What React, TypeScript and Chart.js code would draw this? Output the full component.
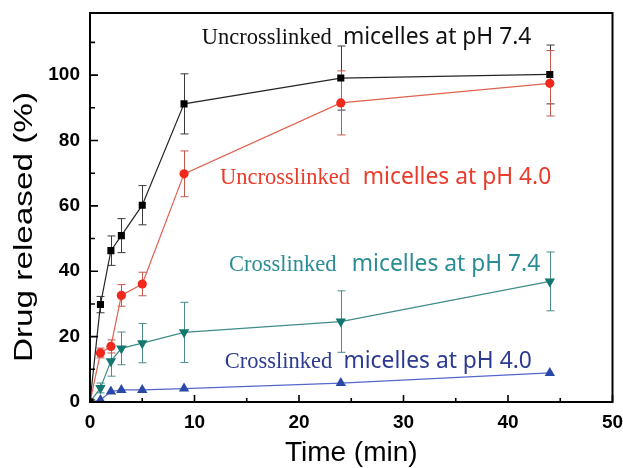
import { useEffect, useRef } from "react";
import { Chart, registerables } from "chart.js";

Chart.register(...registerables);

// Release time points (min)
const timeMin = [0, 1, 2, 3, 5, 9, 24, 44];

// Cumulative drug release (%) and standard deviations
const uncrossPH74 = [0, 29.8, 46.3, 50.9, 60.2, 91.2, 99.1, 100.2];
const uncrossPH74Err = [0, 2.5, 4.5, 5.2, 6.0, 9.2, 9.8, 9.0];

const uncrossPH40 = [0, 15.0, 17.0, 32.6, 36.1, 69.8, 91.5, 97.5];
const uncrossPH40Err = [0, 1.5, 2.0, 3.3, 3.6, 7.0, 9.8, 10.0];

const crossPH74 = [0, 4.3, 12.5, 16.4, 18.0, 21.3, 24.6, 36.9];
const crossPH74Err = [0, 1.5, 4.6, 5.0, 6.0, 9.2, 9.4, 9.0];

const crossPH40 = [0, 0.6, 3.2, 3.7, 3.7, 4.1, 5.8, 8.9];
const crossPH40Err = [0, 0, 0, 0, 0, 0, 0, 0];

// Axis ticks
const xTicks = [0, 10, 20, 30, 40, 50];
const xMinorTicks = [5, 15, 25, 35, 45];
const yTicks = [0, 20, 40, 60, 80, 100];
const yMinorTicks = [10, 30, 50, 70, 90, 110];

// Series captions: serif part, sans part
const captionSerif = ["Uncrosslinked", "Uncrosslinked", "Crosslinked", "Crosslinked"];
const captionSans = ["micelles at pH 7.4", "micelles at pH 4.0", "micelles at pH 7.4", "micelles at pH 4.0"];

const seriesNames = [
  "Uncrosslinked micelles at pH 7.4",
  "Uncrosslinked micelles at pH 4.0",
  "Crosslinked micelles at pH 7.4",
  "Crosslinked micelles at pH 4.0",
];
const seriesValues = [uncrossPH74, uncrossPH40, crossPH74, crossPH40];
const seriesErrors = [uncrossPH74Err, uncrossPH40Err, crossPH74Err, crossPH40Err];

// Styling per series
const styles = [
  { line: "#262626", marker: "#000000", err: "#3a3a3a", text: "#111111", shape: "rect", radius: 5, rotation: 0 },
  { line: "#e0624f", marker: "#f0281e", err: "#c4574c", text: "#ea3b2b", shape: "circle", radius: 4.6, rotation: 0 },
  { line: "#3f8d89", marker: "#12786f", err: "#4c8c88", text: "#2a8c94", shape: "triangle", radius: 6, rotation: 180 },
  { line: "#5566cc", marker: "#2a48a8", err: "#5566cc", text: "#2c3a92", shape: "triangle", radius: 6, rotation: 0 },
];

// Caption anchors in data units: [x of serif word, x of sans part, baseline y]
const captionAnchors = [
  [10.7, 24.2, 109.5],
  [12.45, 26.1, 66.6],
  [13.3, 25.05, 40.0],
  [12.9, 24.25, 10.3],
];

const fontSans = "'Liberation Sans', Arial, sans-serif";

const decorPlugin = {
  id: "decor",
  beforeDatasetsDraw(chart: any) {
    const { ctx, scales, chartArea } = chart;
    const xs = scales.x;
    const ys = scales.y;
    ctx.save();
    ctx.beginPath();
    ctx.rect(chartArea.left, chartArea.top, chartArea.right - chartArea.left, chartArea.bottom - chartArea.top);
    ctx.clip();
    chart.data.datasets.forEach((ds: any) => {
      const errs: number[] = ds.errorBars;
      ctx.strokeStyle = ds.errorColor;
      ctx.lineWidth = 1;
      ds.data.forEach((p: any, i: number) => {
        const e = errs[i];
        if (!e) return;
        const px = Math.round(xs.getPixelForValue(p.x)) + 0.5;
        const top = ys.getPixelForValue(p.y + e);
        const bot = ys.getPixelForValue(p.y - e);
        ctx.beginPath();
        ctx.moveTo(px, top);
        ctx.lineTo(px, bot);
        ctx.moveTo(px - 4, top);
        ctx.lineTo(px + 4, top);
        ctx.moveTo(px - 4, bot);
        ctx.lineTo(px + 4, bot);
        ctx.stroke();
      });
    });
    ctx.restore();
  },
  afterDraw(chart: any) {
    const { ctx, scales, chartArea } = chart;
    const xs = scales.x;
    const ys = scales.y;
    ctx.save();
    // frame
    ctx.strokeStyle = "#000";
    ctx.lineWidth = 2;
    ctx.strokeRect(chartArea.left, chartArea.top, chartArea.right - chartArea.left, chartArea.bottom - chartArea.top);
    // inward ticks
    ctx.lineWidth = 1.6;
    ctx.beginPath();
    const tickY = (v: number, len: number) => {
      const py = ys.getPixelForValue(v);
      ctx.moveTo(chartArea.left, py);
      ctx.lineTo(chartArea.left + len, py);
    };
    const tickX = (v: number, len: number) => {
      const px = xs.getPixelForValue(v);
      ctx.moveTo(px, chartArea.bottom);
      ctx.lineTo(px, chartArea.bottom - len);
    };
    yTicks.forEach((v) => tickY(v, 8));
    yMinorTicks.forEach((v) => tickY(v, 5));
    xTicks.forEach((v) => tickX(v, 7));
    xMinorTicks.forEach((v) => tickX(v, 4));
    ctx.stroke();

    // series captions
    ctx.textBaseline = "alphabetic";
    ctx.textAlign = "left";
    captionAnchors.forEach((a, i) => {
      ctx.fillStyle = styles[i].text;
      const by = ys.getPixelForValue(a[2]);
      ctx.font = "22.5px 'Liberation Serif', 'Times New Roman', serif";
      ctx.fillText(captionSerif[i], xs.getPixelForValue(a[0]), by);
      ctx.font = "22.8px 'Noto Sans', sans-serif";
      ctx.fillText(captionSans[i], xs.getPixelForValue(a[1]), by);
    });

    // y-axis title
    ctx.fillStyle = "#000";
    ctx.font = `26px ${fontSans}`;
    ctx.translate(25, 227);
    ctx.rotate(-Math.PI / 2);
    ctx.scale(1.28, 1);
    ctx.textAlign = "center";
    ctx.textBaseline = "middle";
    ctx.fillText("Drug released (%)", 0, 0);
    ctx.restore();
  },
};

const zeroPadding = (scale: any) => {
  scale.paddingTop = 0;
  scale.paddingBottom = 0;
  scale.paddingLeft = 0;
  scale.paddingRight = 0;
};

export default function App() {
  const ref = useRef<HTMLCanvasElement>(null);

  useEffect(() => {
    if (!ref.current) return;
    const datasets = seriesValues.map((vals, i) => {
      const s = styles[i];
      return {
        label: seriesNames[i],
        data: timeMin.map((t, j) => ({ x: t, y: vals[j] })),
        borderColor: s.line,
        borderWidth: 1.2,
        backgroundColor: s.marker,
        pointBackgroundColor: s.marker,
        pointBorderColor: s.marker,
        pointBorderWidth: 0,
        pointStyle: s.shape,
        pointRadius: s.radius,
        pointRotation: s.rotation,
        tension: 0,
        errorBars: seriesErrors[i],
        errorColor: s.err,
      } as any;
    });

    const chart = new Chart(ref.current, {
      type: "line",
      data: { datasets },
      plugins: [decorPlugin],
      options: {
        responsive: false,
        animation: false,
        events: [],
        layout: { padding: { top: 13, right: 10.5, left: 0, bottom: 0 } },
        plugins: { legend: { display: false }, tooltip: { enabled: false } },
        scales: {
          x: {
            type: "linear",
            min: 0,
            max: 50,
            afterFit: (scale: any) => {
              scale.height = 66;
              zeroPadding(scale);
            },
            afterBuildTicks: (scale: any) => {
              scale.ticks = xTicks.map((v) => ({ value: v }));
            },
            grid: { display: false, drawTicks: false },
            border: { display: false },
            ticks: {
              padding: 9,
              color: "#000",
              font: { family: fontSans, size: 19, weight: "bold" },
              maxRotation: 0,
            },
            title: {
              display: true,
              text: "Time (min)",
              color: "#000",
              font: { family: fontSans, size: 28, lineHeight: 1 },
              padding: { top: 0, bottom: 1 },
            },
          },
          y: {
            type: "linear",
            min: 0,
            max: 119,
            afterFit: (scale: any) => {
              scale.width = 90;
              zeroPadding(scale);
            },
            afterBuildTicks: (scale: any) => {
              scale.ticks = yTicks.map((v) => ({ value: v }));
            },
            grid: { display: false, drawTicks: false },
            border: { display: false },
            ticks: {
              padding: 10,
              color: "#000",
              font: { family: fontSans, size: 19, weight: "bold" },
            },
          },
        },
      } as any,
    });
    return () => chart.destroy();
  }, []);

  return (
    <div style={{ position: "fixed", left: 0, top: 0, width: 623, height: 468, background: "#fff" }}>
      <canvas ref={ref} width={623} height={468} style={{ display: "block" }} />
    </div>
  );
}
